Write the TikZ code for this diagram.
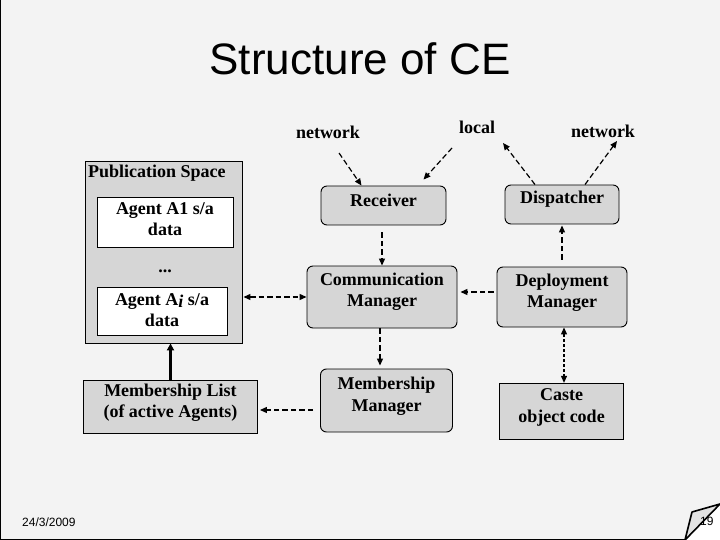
\documentclass[tikz,border=0pt]{standalone}
\usepackage{fontspec}
\setmainfont{Liberation Serif}
\newfontfamily\slidesans{Liberation Sans}
\usetikzlibrary{arrows.meta}
\definecolor{bg}{HTML}{F3F3F3}
\definecolor{boxgray}{HTML}{D6D6D6}
\definecolor{flap}{HTML}{E2E2E2}
\begin{document}
\begin{tikzpicture}[x=1pt,y=-1pt,
  txt/.style={font=\bfseries\fontsize{18}{21}\selectfont,align=center,inner sep=0pt},
  wtxt/.style={font=\bfseries\fontsize{18}{22}\selectfont,align=center,inner sep=0pt},
  rbox/.style={draw=black,line width=0.9pt,fill=boxgray,rounded corners=6pt},
  sbox/.style={draw=black,line width=0.9pt,fill=boxgray},
  wbox/.style={draw=black,line width=0.9pt,fill=white},
  dasharr/.style={line width=1.2pt,dash pattern=on 5.5pt off 3pt,-{Triangle[length=7pt,width=6pt]}},
  dotarr/.style={line width=1.1pt,dash pattern=on 3pt off 2pt,{Triangle[length=7pt,width=6pt]}-{Triangle[length=7pt,width=6pt]}},
  solarr/.style={line width=2.4pt,-{Triangle[length=7pt,width=7pt]}},
  lbl/.style={font=\bfseries\fontsize{18}{20}\selectfont,inner sep=0pt,anchor=base}]
\useasboundingbox (0,0) rectangle (720,540);
\fill[bg] (0,0) rectangle (720,540);
% title
\node[font=\slidesans\fontsize{44}{48}\selectfont,anchor=base,inner sep=0pt] (title) at (360,75) {Structure of CE};
% labels
\node[lbl] (netL) at (328,139) {network};
\node[lbl] (local) at (477,134) {local};
\node[lbl] (netR) at (603,138) {network};
% publication space
\node[sbox,minimum width=157pt,minimum height=182pt] (pub) at (163.5,252) {};
\node[lbl,anchor=base west] (pubt) at (88,178) {Publication Space};
\node[wbox,minimum width=136pt,minimum height=50pt] (a1) at (165,222) {};
\node[txt] (a1t) at (165,219) {Agent A1 s/a\\data};
\node[lbl] (dots) at (165,272) {...};
\node[wbox,minimum width=130pt,minimum height=48pt] (ai) at (162,311) {};
\node[txt] (ait) at (162,310) {Agent A\raisebox{-0.3ex}{\itshape i} s/a\\data};
% boxes
\node[rbox,minimum width=125pt,minimum height=39pt] (rec) at (383.5,205.5) {};
\node[txt] (rect) at (383.5,200.5) {Receiver};
\node[rbox,minimum width=114pt,minimum height=39pt] (disp) at (562,204.5) {};
\node[txt] (dispt) at (562,199.5) {Dispatcher};
\node[rbox,minimum width=150pt,minimum height=62pt] (comm) at (382,297) {};
\node[txt] (commt) at (382,292) {Communication\\Manager};
\node[rbox,minimum width=130pt,minimum height=60pt] (dep) at (562,297) {};
\node[txt] (dept) at (562,292.5) {Deployment\\Manager};
\node[sbox,minimum width=174pt,minimum height=53pt] (ml) at (170.5,406.5) {};
\node[txt] (mlt) at (170.5,403) {Membership List\\(of active Agents)};
\node[rbox,minimum width=132pt,minimum height=63pt] (mm) at (386.5,400.5) {};
\node[wtxt] (mmt) at (386.5,396) {Membership\\Manager};
\node[sbox,minimum width=124pt,minimum height=56pt] (caste) at (561.5,411.3) {};
\node[wtxt] (castet) at (561.5,407) {Caste\\object code};
% free ends
\coordinate (n1) at (339,153);
\coordinate (l1) at (452,148);
\coordinate (l2) at (503,143);
\coordinate (n2) at (617,141);
% connectors
\draw[dasharr] (n1) -- ([xshift=-22pt]rec.north);
\draw[dasharr] (l1) -- ([xshift=40pt,yshift=6pt]rec.north);
\draw[dasharr] ([xshift=-27pt]disp.north) -- (l2);
\draw[dasharr] ([xshift=23pt]disp.north) -- (n2);
\draw[dasharr] ([yshift=-7pt]comm.north |- rec.south) -- (comm.north);
\draw[dasharr] ([yshift=7pt]dep.north) -- ([yshift=-1pt]disp.south);
\draw[dasharr] ([xshift=-3pt,yshift=5pt]dep.west) -- ([xshift=3pt,yshift=5pt]comm.east);
\draw[dasharr,{Triangle[length=7pt,width=6pt]}-{Triangle[length=7pt,width=6pt]}] ([xshift=1pt]comm.west -| pub.east) -- (comm.west);
\draw[dasharr] ([xshift=-2pt]comm.south) -- ([yshift=3pt,xshift=-2pt]mm.north -| comm.south);
\path ([xshift=-7pt,yshift=-9.5pt]mm.west) coordinate (m1);
\draw[dasharr] (m1) -- ([xshift=2pt]m1 -| ml.east);
\draw[solarr] (ml.north) -- (ml.north |- pub.south);
\draw[dotarr] ([xshift=2pt]dep.south) -- ([xshift=2.5pt]caste.north);
% footer
\node[font=\slidesans\fontsize{12}{14}\selectfont,anchor=base west,inner sep=0pt] (date) at (22,526) {24/3/2009};
% page curl
\fill[white] (685,540) -- (720,503) -- (720,540) -- cycle;
\filldraw[fill=flap,draw=black,line width=1.6pt,line join=bevel] (685,540) -- (692,512) -- (720,504) -- cycle;
\node[font=\slidesans\fontsize{12}{14}\selectfont,anchor=base west,inner sep=0pt] (page) at (700,525) {19};
% frame
\draw[line width=1pt] (0.5,0) -- (0.5,539.5) -- (685,539.5);
\end{tikzpicture}
\end{document}
